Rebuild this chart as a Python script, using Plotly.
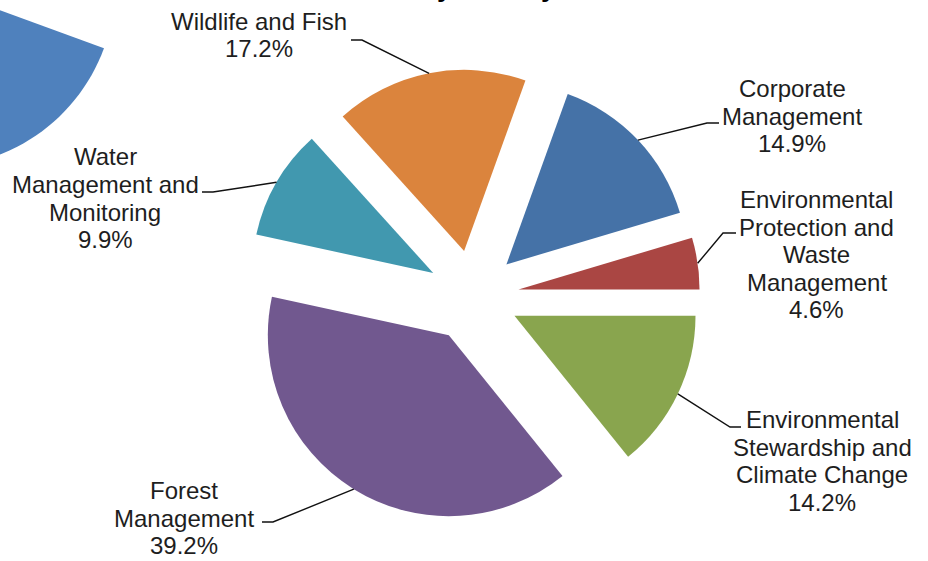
import math
import plotly.graph_objects as go

W, H = 928, 561

# ---------------- data ----------------
categories = [
    "Environmental Stewardship and Climate Change",
    "Forest Management",
    "Water Management and Monitoring",
    "Wildlife and Fish",
    "Corporate Management",
    "Environmental Protection and Waste Management",
]
values = [14.2, 39.2, 9.9, 17.2, 14.9, 4.6]
label_lines = [
    ["Environmental", "Stewardship and", "Climate Change"],
    ["Forest", "Management"],
    ["Water", "Management and", "Monitoring"],
    ["Wildlife and Fish"],
    ["Corporate", "Management"],
    ["Environmental", "Protection and", "Waste", "Management"],
]
colors = ["#89A54E", "#71588F", "#4198AF", "#DB843D", "#4572A7", "#AA4643"]

# ---------------- layout geometry (pixels) ----------------
PIE_CX, PIE_CY = 473, 296
HALF_BOX = 227
PULL = 0.254
LINE_STEP = 27.5
FONT = "Liberation Sans, Arial, sans-serif"
TEXT_COLOR = "#1e1e1e"

# label block: (center x, first-line y)
label_pos = [(822, 419.5), (184, 490.5), (105, 157), (258.5, 21), (792, 88.5), (816.5, 199.5)]
# leader lines: horizontal tick start, elbow
leader_pts = [((741, 427), (730, 427)),
              ((262, 522), (273, 522)),
              ((202, 192), (213, 192)),
              ((351, 40), (362, 40)),
              ((719, 123), (707, 123)),
              ((736, 233), (723, 233))]


def px2paper(px, py):
    return px / W, 1 - py / H


dom_x = [(PIE_CX - HALF_BOX) / W, (PIE_CX + HALF_BOX) / W]
dom_y = [(H - PIE_CY - HALF_BOX) / H, (H - PIE_CY + HALF_BOX) / H]

fig = go.Figure(go.Pie(
    labels=categories, values=values, sort=False, direction="clockwise",
    rotation=90, pull=PULL, textinfo="none", hoverinfo="label+percent",
    marker=dict(colors=colors, line=dict(width=0)),
    domain=dict(x=dom_x, y=dom_y),
))

annotations = []
shapes = []

# anchor points of leader lines: middle of each slice's outer arc
r = HALF_BOX / (1 + PULL)
total = sum(values)
cum = 0.0
for i, v in enumerate(values):
    mid = math.radians((cum + v / 2) / total * 360)
    cum += v
    ax = PIE_CX + r * (1 + PULL) * math.cos(mid)
    ay = PIE_CY + r * (1 + PULL) * math.sin(mid)

    lines = label_lines[i] + [f"{v / total * 100:.1f}%"]
    cx, y0 = label_pos[i]
    for k, t in enumerate(lines):
        x, y = px2paper(cx, y0 + k * LINE_STEP)
        annotations.append(dict(
            text=t, x=x, y=y, xref="paper", yref="paper",
            xanchor="center", yanchor="middle", showarrow=False,
            font=dict(family=FONT, size=24, color=TEXT_COLOR),
        ))
    (t0, e) = leader_pts[i]
    p0 = px2paper(*t0)
    p1 = px2paper(*e)
    p2 = px2paper(ax, ay)
    shapes.append(dict(
        type="path", xref="paper", yref="paper",
        path=f"M {p0[0]},{p0[1]} L {p1[0]},{p1[1]} L {p2[0]},{p2[1]}",
        line=dict(color="#111111", width=1.4),
    ))

# fragment of a neighbouring chart visible at the top-left corner
FRAG_CX, FRAG_CY, FRAG_R = -66, -14, 181
FRAG_A0, FRAG_A1 = 20.1, 115
pts = [px2paper(FRAG_CX, FRAG_CY)]
for j in range(41):
    a = math.radians(FRAG_A0 + (FRAG_A1 - FRAG_A0) * j / 40)
    pts.append(px2paper(FRAG_CX + FRAG_R * math.cos(a), FRAG_CY + FRAG_R * math.sin(a)))
path = "M " + " L ".join(f"{x},{y}" for x, y in pts) + " Z"
shapes.append(dict(type="path", xref="paper", yref="paper", path=path,
                   fillcolor="#4F81BD", line=dict(width=0), layer="below"))

# chart title (mostly above the visible area)
tx, ty = px2paper(266, -13)
annotations.append(dict(
    text="<b>Total Costs by Activity</b>", x=tx, y=ty, xref="paper", yref="paper",
    xanchor="left", yanchor="middle", showarrow=False,
    font=dict(family=FONT, size=27, color="#000000"),
))

fig.update_layout(
    width=W, height=H,
    margin=dict(l=0, r=0, t=0, b=0),
    paper_bgcolor="white", plot_bgcolor="white",
    showlegend=False,
    annotations=annotations, shapes=shapes,
)

fig.write_html("out.html", config={"displayModeBar": False},
               post_script="document.body.style.margin='0';")
